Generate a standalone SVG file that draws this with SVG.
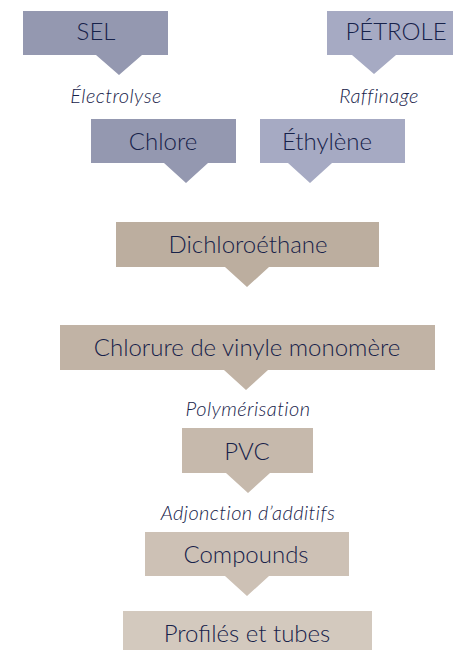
<svg xmlns="http://www.w3.org/2000/svg" width="453" height="650" viewBox="0 0 453 650">
<style>
.lbl{font-family:Lato,"Liberation Sans",sans-serif;font-weight:300;fill:#17224a;text-anchor:middle}
.big{font-size:24px}
.it{font-family:Lato,"Liberation Sans",sans-serif;font-weight:300;font-style:italic;font-size:20px;letter-spacing:0.4px;fill:#17224a;text-anchor:middle}
.c1{fill:#9498b0}
.c2{fill:#a6aac3}
.c3{fill:#bcae9f}
.c4{fill:#c1b3a5}
.c5{fill:#c6b9ac}
.c6{fill:#cdc1b5}
.c7{fill:#d3c9be}
</style>
<rect width="453" height="650" fill="#ffffff"/>
<g id="connectors">
<text class="it" x="116" y="103">Électrolyse</text>
<text class="it" x="379" y="103">Raffinage</text>
<text class="it" x="248" y="416">Polymérisation</text>
<text class="it" x="248" y="520">Adjonction d’additifs</text>
</g>
<g id="sel">
<path class="c1" d="M23 11H168V55H142L119 75L96 55H23Z"/>
<text class="lbl big" x="96" y="40">SEL</text>
</g>
<g id="petrole">
<path class="c2" d="M327 11H453V55H396L374 74L352 55H327Z"/>
<text class="lbl big" x="396" y="40">PÉTROLE</text>
</g>
<g id="chlore">
<path class="c1" d="M91 119H236V163H208L186 183L164 163H91Z"/>
<text class="lbl big" x="163" y="150">Chlore</text>
</g>
<g id="ethylene">
<path class="c2" d="M260 119H405V163H332L310 183L288 163H260Z"/>
<text class="lbl big" x="327" y="150">Éthylène</text>
</g>
<g id="dichloroethane">
<path class="c3" d="M116 222H379V267H269L247 287L225 267H116Z"/>
<text class="lbl big" x="248" y="253">Dichloroéthane</text>
</g>
<g id="cvm">
<path class="c4" d="M60 325H435V370H268L246 390L224 370H60Z"/>
<text class="lbl big" x="247" y="356">Chlorure de vinyle monomère</text>
</g>
<g id="pvc">
<path class="c5" d="M182 428H313V473H270L248 493L226 473H182Z"/>
<text class="lbl big" x="247" y="460">PVC</text>
</g>
<g id="compounds">
<path class="c6" d="M145 532H349V576H269L247 596L225 576H145Z"/>
<text class="lbl big" x="246" y="563">Compounds</text>
</g>
<g id="profiles">
<rect class="c7" x="123" y="611" width="249" height="45"/>
<text class="lbl big" x="247" y="642">Profilés et tubes</text>
</g>
</svg>
